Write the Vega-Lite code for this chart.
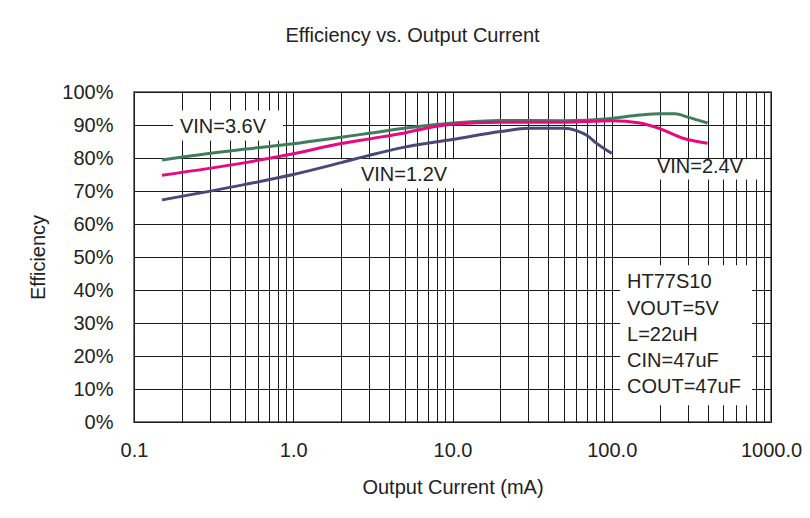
{
  "$schema": "https://vega.github.io/schema/vega-lite/v6.json",
  "width": 637,
  "height": 330,
  "autosize": "none",
  "padding": {"left": 134, "top": 92, "right": 39, "bottom": 96},
  "background": "white",
  "title": {
    "text": "Efficiency vs. Output Current",
    "fontSize": 20,
    "font": "Liberation Sans",
    "fontWeight": "normal",
    "color": "#222",
    "offset": 36,
    "dx": -40
  },
  "datasets": {
    "curves": [
      {"series": "VIN=3.6V", "current": 0.15, "efficiency": 79.4},
      {"series": "VIN=3.6V", "current": 0.5, "efficiency": 82.7},
      {"series": "VIN=3.6V", "current": 1, "efficiency": 84.3},
      {"series": "VIN=3.6V", "current": 2, "efficiency": 86.3},
      {"series": "VIN=3.6V", "current": 3, "efficiency": 87.5},
      {"series": "VIN=3.6V", "current": 5, "efficiency": 89.0},
      {"series": "VIN=3.6V", "current": 10, "efficiency": 90.6},
      {"series": "VIN=3.6V", "current": 20, "efficiency": 91.4},
      {"series": "VIN=3.6V", "current": 50, "efficiency": 91.3},
      {"series": "VIN=3.6V", "current": 100, "efficiency": 92.0},
      {"series": "VIN=3.6V", "current": 150, "efficiency": 93.0},
      {"series": "VIN=3.6V", "current": 200, "efficiency": 93.4},
      {"series": "VIN=3.6V", "current": 250, "efficiency": 93.4},
      {"series": "VIN=3.6V", "current": 300, "efficiency": 92.4},
      {"series": "VIN=3.6V", "current": 400, "efficiency": 90.6},
      {"series": "VIN=2.4V", "current": 0.15, "efficiency": 74.8},
      {"series": "VIN=2.4V", "current": 0.5, "efficiency": 78.6},
      {"series": "VIN=2.4V", "current": 1, "efficiency": 81.3},
      {"series": "VIN=2.4V", "current": 2, "efficiency": 84.4},
      {"series": "VIN=2.4V", "current": 3, "efficiency": 85.8},
      {"series": "VIN=2.4V", "current": 5, "efficiency": 87.6},
      {"series": "VIN=2.4V", "current": 7.5, "efficiency": 89.4},
      {"series": "VIN=2.4V", "current": 10, "efficiency": 90.2},
      {"series": "VIN=2.4V", "current": 20, "efficiency": 90.8},
      {"series": "VIN=2.4V", "current": 50, "efficiency": 90.8},
      {"series": "VIN=2.4V", "current": 100, "efficiency": 91.3},
      {"series": "VIN=2.4V", "current": 150, "efficiency": 90.6},
      {"series": "VIN=2.4V", "current": 200, "efficiency": 88.9},
      {"series": "VIN=2.4V", "current": 280, "efficiency": 86.0},
      {"series": "VIN=2.4V", "current": 400, "efficiency": 84.5},
      {"series": "VIN=1.2V", "current": 0.15, "efficiency": 67.3},
      {"series": "VIN=1.2V", "current": 0.5, "efficiency": 72.0},
      {"series": "VIN=1.2V", "current": 1, "efficiency": 75.0},
      {"series": "VIN=1.2V", "current": 2, "efficiency": 78.6},
      {"series": "VIN=1.2V", "current": 3, "efficiency": 80.8},
      {"series": "VIN=1.2V", "current": 5, "efficiency": 83.3},
      {"series": "VIN=1.2V", "current": 10, "efficiency": 85.6},
      {"series": "VIN=1.2V", "current": 20, "efficiency": 88.0},
      {"series": "VIN=1.2V", "current": 30, "efficiency": 89.0},
      {"series": "VIN=1.2V", "current": 50, "efficiency": 89.0},
      {"series": "VIN=1.2V", "current": 60, "efficiency": 88.3},
      {"series": "VIN=1.2V", "current": 70, "efficiency": 86.8},
      {"series": "VIN=1.2V", "current": 80, "efficiency": 84.5},
      {"series": "VIN=1.2V", "current": 100, "efficiency": 81.4}
    ],
    "boxes": [
      {"label": "VIN=3.6V", "current": 0.176, "current2": 0.862, "efficiency": 85.3, "efficiency2": 94.4},
      {"label": "VIN=1.2V", "current": 1.86, "current2": 12.5, "efficiency": 70.8, "efficiency2": 79.6},
      {"label": "VIN=2.4V", "current": 174, "current2": 828, "efficiency": 73.5, "efficiency2": 79.6},
      {"label": "conditions", "current": 113, "current2": 760, "efficiency": 5.1, "efficiency2": 47.5}
    ],
    "labels": [
      {"text": "VIN=3.6V", "current": 0.362, "efficiency": 89.3},
      {"text": "VIN=1.2V", "current": 4.96, "efficiency": 74.7},
      {"text": "VIN=2.4V", "current": 358, "efficiency": 77.2}
    ],
    "notes": [
      {"text": "HT77S10", "current": 124.7, "efficiency": 42.4},
      {"text": "VOUT=5V", "current": 124.7, "efficiency": 34.3},
      {"text": "L=22uH", "current": 124.7, "efficiency": 26.4},
      {"text": "CIN=47uF", "current": 124.7, "efficiency": 18.6},
      {"text": "COUT=47uF", "current": 124.7, "efficiency": 10.6}
    ]
  },
  "encoding": {
    "x": {"field": "current", "type": "quantitative", "scale": {"type": "log", "domain": [0.1, 1000]},
      "axis": {
        "title": "Output Current (mA)",
        "values": [0.1,0.2,0.3,0.4,0.5,0.6,0.7,0.8,0.9,1,2,3,4,5,6,7,8,9,10,20,30,40,50,60,70,80,90,100,200,300,400,500,600,700,800,900,1000],
        "labelExpr": "abs(log(datum.value)/LN10 - round(log(datum.value)/LN10)) < 0.000001 ? format(datum.value, '.1f') : ''",
        "grid": true,
        "gridColor": "#1a1a1a",
        "gridWidth": 1,
        "gridOpacity": 1,
        "ticks": false,
        "domain": false,
        "labelPadding": 18,
        "labelFontSize": 20,
        "labelFont": "Liberation Sans",
        "labelColor": "#222",
        "labelFlush": false,
        "labelOverlap": false,
        "titleFontSize": 20,
        "titleFont": "Liberation Sans",
        "titleFontWeight": "normal",
        "titleColor": "#222",
        "titlePadding": 17
      }
    },
    "y": {"field": "efficiency", "type": "quantitative", "scale": {"domain": [0, 100]},
      "axis": {
        "title": "Efficiency",
        "values": [0,10,20,30,40,50,60,70,80,90,100],
        "labelExpr": "datum.value + '%'",
        "grid": true,
        "gridColor": "#1a1a1a",
        "gridWidth": 1,
        "gridOpacity": 1,
        "ticks": false,
        "domain": false,
        "labelPadding": 21,
        "labelFontSize": 20,
        "labelFont": "Liberation Sans",
        "labelColor": "#222",
        "labelFlush": false,
        "labelOverlap": false,
        "titleFontSize": 20,
        "titleFont": "Liberation Sans",
        "titleFontWeight": "normal",
        "titleColor": "#222",
        "titlePadding": 13
      }
    }
  },
  "layer": [
    {
      "data": {"name": "boxes"},
      "mark": {"type": "rect", "fill": "white", "stroke": null},
      "encoding": {
        "x2": {"field": "current2"},
        "y2": {"field": "efficiency2"}
      }
    },
    {
      "data": {"name": "curves"},
      "mark": {"type": "line", "strokeWidth": 3, "interpolate": "monotone"},
      "encoding": {
        "color": {
          "field": "series",
          "type": "nominal",
          "scale": {"domain": ["VIN=3.6V", "VIN=2.4V", "VIN=1.2V"], "range": ["#3f7d5c", "#e8087f", "#4a4878"]},
          "legend": null
        }
      }
    },
    {
      "data": {"name": "labels"},
      "mark": {"type": "text", "fontSize": 20, "font": "Liberation Sans", "color": "#222", "align": "center", "baseline": "middle"},
      "encoding": {
        "text": {"field": "text"}
      }
    },
    {
      "data": {"name": "notes"},
      "mark": {"type": "text", "fontSize": 20, "font": "Liberation Sans", "color": "#222", "align": "left", "baseline": "middle"},
      "encoding": {
        "text": {"field": "text"}
      }
    }
  ],
  "config": {
    "view": {"stroke": "#7a7a7a", "strokeWidth": 2}
  }
}
